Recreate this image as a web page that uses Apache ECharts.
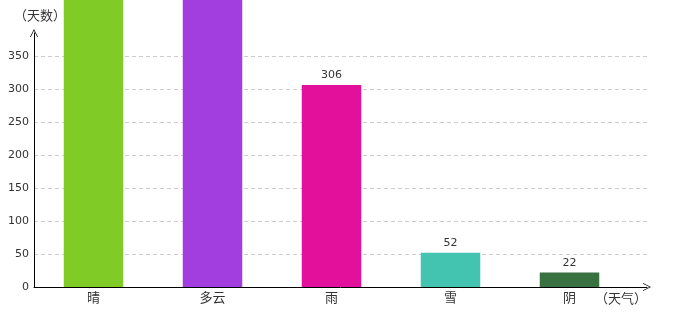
<!DOCTYPE html>
<html><head><meta charset="utf-8">
<script src="https://cdn.jsdelivr.net/npm/echarts@6/dist/echarts.min.js"></script>
<style>html,body{margin:0;padding:0;background:#fff}#c{width:680px;height:320px}</style>
</head><body><div id="c"></div>
<script>
const categories = ['晴', '多云', '雨', '雪', '阴'];
const days = [470, 455, 306, 52, 22];
const barColors = ['#80cb26', '#a23ddf', '#e2109a', '#43c4b0', '#3a7140'];
const yTicks = [0, 50, 100, 150, 200, 250, 300, 350];
const yMax = 385;

const font = '"DejaVu Sans", "Noto Sans CJK SC", sans-serif';
const cjk = '"Noto Sans CJK SC", sans-serif';
const arrow = 'path://M0,10 L5,0 L10,10 L9,10 L5,1.8 L1,10 Z';
const chart = echarts.init(document.getElementById('c'), null, {renderer: 'canvas'});
chart.setOption({
  animation: false,
  grid: [
    {left: 34, right: 51, top: 33, bottom: 33},
    {left: 34, right: 33, top: 33, bottom: 33}
  ],
  xAxis: [
    {
      type: 'category', gridIndex: 0, data: categories,
      axisLine: {show: false}, axisTick: {show: false},
      axisLabel: {color: '#333', fontSize: 13, margin: 4, fontFamily: cjk}
    },
    {
      type: 'value', gridIndex: 1, min: 0, max: 1,
      axisLine: {show: true, onZero: false, lineStyle: {color: '#000', width: 1}, symbol: ['none', arrow], symbolSize: [8, 10]},
      axisTick: {show: false}, axisLabel: {show: false}, splitLine: {show: false},
      name: '（天气）', nameLocation: 'end', nameGap: -52,
      nameTextStyle: {color: '#333', fontSize: 13, fontFamily: cjk, verticalAlign: 'top', padding: [5, 0, 0, 0]}
    }
  ],
  yAxis: [
    {type: 'value', gridIndex: 0, min: 0, max: yMax, show: false, splitLine: {show: false}},
    {
      type: 'value', gridIndex: 1, min: 0, max: yMax, interval: 50,
      axisLine: {show: true, lineStyle: {color: '#000', width: 1}, symbol: ['none', arrow], symbolSize: [8, 10]},
      axisTick: {show: false},
      axisLabel: {
        color: '#333', fontSize: 11, margin: 5, fontFamily: font, showMaxLabel: false,
        formatter: v => (yTicks.indexOf(v) >= 0 ? String(v) : '')
      },
      splitLine: {show: true, showMinLine: false, showMaxLine: false, lineStyle: {color: '#ccc', type: [4, 3], width: 1}},
      name: '（天数）', nameLocation: 'end', nameGap: 11,
      nameTextStyle: {color: '#333', fontSize: 13, fontFamily: cjk, padding: [0, 0, 0, 12]}
    }
  ],
  series: [{
    type: 'bar', xAxisIndex: 0, yAxisIndex: 0, clip: false,
    barWidth: '50%',
    data: days.map((v, i) => ({value: v, itemStyle: {color: barColors[i]}})),
    label: {show: true, position: 'top', distance: 4, color: '#333', fontSize: 11, fontFamily: font}
  }]
});
</script>
</body></html>
